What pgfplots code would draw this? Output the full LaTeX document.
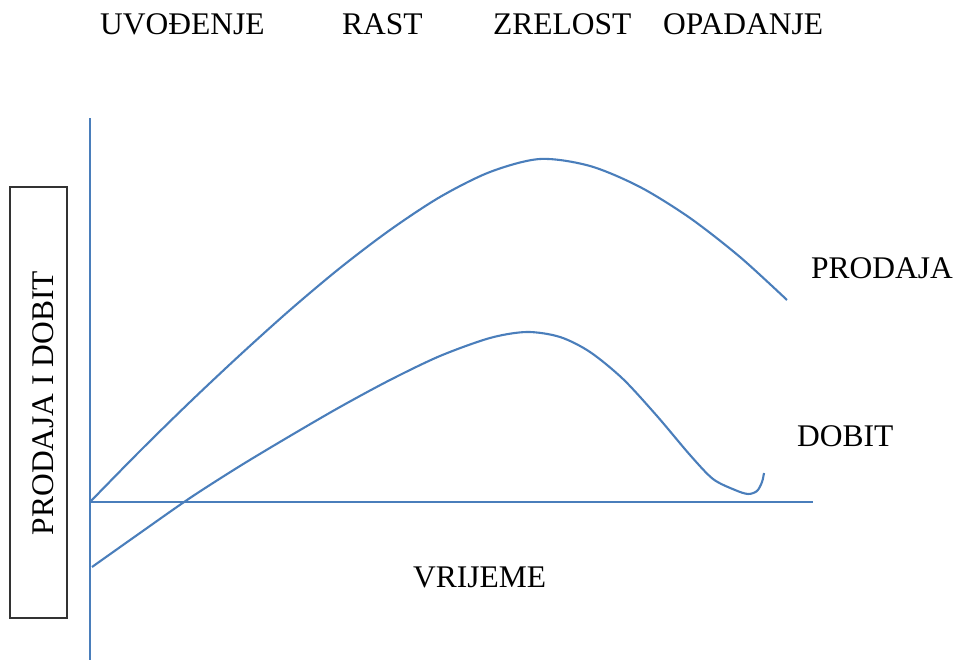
\documentclass[border=0pt]{standalone}
\usepackage{pgfplots}
\pgfplotsset{compat=1.18}
\usepackage{fontspec}
\setmainfont{Liberation Serif}
\definecolor{lineblue}{HTML}{4A7EBB}
\pgfplotstableread{
x y
90 158
140 209
190 258
240 305
290 350
340 392
390 430
440 463
490 488
540 501
590 494
640 473
690 442
740 403
787 360
}\prodaja
\pgfplotstableread{
x y
92 93
140 127
190 162
240 194
290 224
340 253
390 280
440 304
490 322
527 328
560 323
590 308
623 281
657 244
690 205
713 181
735 170
748 166
757 169
762 178
764 187
}\dobit
\begin{document}
\begin{tikzpicture}
\begin{axis}[
  width=956pt, height=660pt, scale only axis,
  xmin=0, xmax=956, ymin=0, ymax=660,
  hide axis, clip=false,
]
\path (axis cs:0,0) rectangle (axis cs:956,660);
\addplot[lineblue, line width=2pt] coordinates {(90,0) (90,542)};
\addplot[lineblue, line width=2pt] coordinates {(90,158) (813,158)};
\addplot[lineblue, line width=2.1pt, smooth] table {\prodaja};
\addplot[lineblue, line width=2.1pt, smooth] table {\dobit};
\draw[black!80, line width=1.3pt] (axis cs:10,42) rectangle (axis cs:67,473);
\begin{scope}[every node/.style={inner sep=0pt, font=\fontsize{31.5}{36}\selectfont}]
\node[anchor=base west] at (axis cs:100,625) {UVOĐENJE};
\node[anchor=base west] at (axis cs:342,625) {RAST};
\node[anchor=base west] at (axis cs:493,625) {ZRELOST};
\node[anchor=base west] at (axis cs:663,625) {OPADANJE};
\node[anchor=base west] at (axis cs:811,381) {PRODAJA};
\node[anchor=base west] at (axis cs:797,213) {DOBIT};
\node[anchor=base west] at (axis cs:413,72) {VRIJEME};
\node[anchor=base, rotate=90] at (axis cs:53,257) {PRODAJA I DOBIT};
\end{scope}
\end{axis}
\end{tikzpicture}
\end{document}
